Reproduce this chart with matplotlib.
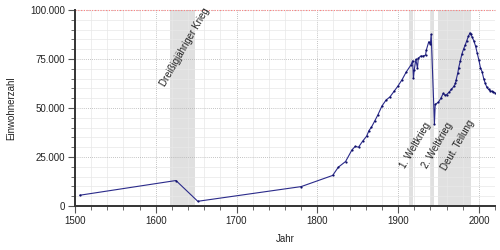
import matplotlib
matplotlib.use("Agg")
import matplotlib.pyplot as plt
from matplotlib.ticker import MultipleLocator, FuncFormatter

# Einwohnerentwicklung
jahre = [1506, 1625, 1652, 1780, 1819, 1826, 1835, 1843, 1847, 1851, 1856,
         1861, 1864, 1867, 1871, 1875, 1880, 1885, 1890, 1895, 1900, 1905,
         1910, 1916, 1918, 1919, 1920, 1922, 1924, 1925, 1928, 1931, 1934,
         1935, 1938, 1940, 1941, 1945, 1946, 1950, 1953, 1956, 1958, 1960,
         1963, 1966, 1969, 1971, 1972, 1974, 1975, 1977, 1979, 1981, 1983,
         1985, 1987, 1989, 1990, 1992, 1994, 1996, 1998, 2000, 2002, 2004,
         2006, 2008, 2010, 2012, 2014, 2016, 2018, 2020]
einwohner = [5500, 13000, 2400, 9900, 15600, 19800, 22700, 28700, 30400,
             30000, 33000, 35600, 38500, 40200, 43300, 46500, 51000, 54000,
             55700, 58500, 61300, 64500, 68300, 72000, 74100, 65200, 69400,
             74800, 70300, 75300, 76500, 76500, 77000, 79600, 83800, 82600,
             87500, 42000, 51800, 53000, 55000, 57500, 56500, 56800, 58000,
             59500, 61000, 62500, 64500, 68000, 70500, 74000, 77500, 80000,
             82000, 84300, 86500, 88300, 87500, 86000, 84000, 81500, 78000,
             74500, 70500, 68500, 65000, 62500, 60500, 59500, 58800, 58500,
             58200, 57800]

# Zeitraeume (Beginn, Ende, Beschriftung, Beschriftungsposition)
phasen = [
    (1618, 1648, "Dreißigjähriger Krieg", 1636, 81000),
    (1914, 1918, "1. Weltkrieg", 1921, 31000),
    (1939, 1945, "2. Weltkrieg", 1948.5, 31000),
    (1949, 1990, "Deut. Teilung", 1974, 30800),
]

plt.rcParams["font.family"] = ["Liberation Sans", "DejaVu Sans"]

fig = plt.figure(figsize=(5, 2.5), dpi=100)
ax = fig.add_axes([0.15, 0.176, 0.84, 0.784])

for start, ende, name, tx, ty in phasen:
    ax.axvspan(start, ende, color="#e0e0e0", lw=0, zorder=0)
    ax.text(tx, ty, name, rotation=60, ha="center", va="center",
            fontsize=7, color="#222222", zorder=3)

ax.plot(jahre, einwohner, color="#2a2a8a", lw=0.8, marker="o",
        markersize=1.6, markerfacecolor="#10106a", markeredgewidth=0,
        zorder=4)

ax.axhline(100000, color="#ff8080", lw=0.8, ls=(0, (1, 1.5)), zorder=2,
           clip_on=False)

ax.set_xlim(1500, 2020)
ax.set_ylim(0, 100000)

ax.xaxis.set_major_locator(MultipleLocator(100))
ax.xaxis.set_minor_locator(MultipleLocator(20))
ax.yaxis.set_major_locator(MultipleLocator(25000))
ax.yaxis.set_minor_locator(MultipleLocator(5000))
ax.yaxis.set_major_formatter(
    FuncFormatter(lambda v, p: f"{int(v):,}".replace(",", ".")))

ax.grid(which="major", color="#b0b0b0", lw=0.6, ls=(0, (1, 1.5)), zorder=1)
ax.grid(which="minor", color="#e8e8e8", lw=0.5, zorder=1)
ax.set_axisbelow(True)

for s in ("top", "right"):
    ax.spines[s].set_visible(False)
for s in ("left", "bottom"):
    ax.spines[s].set_color("#333333")
    ax.spines[s].set_linewidth(1.4)

ax.tick_params(which="major", length=5, width=0.8, color="#555555",
               labelsize=7, labelcolor="#222222", pad=2)
ax.tick_params(which="minor", length=3, width=0.6, color="#555555")

ax.set_xlabel("Jahr", fontsize=7, color="#222222", labelpad=6)
ax.set_ylabel("Einwohnerzahl", fontsize=7, color="#222222", labelpad=10)

fig.savefig("out.png", dpi=100)
